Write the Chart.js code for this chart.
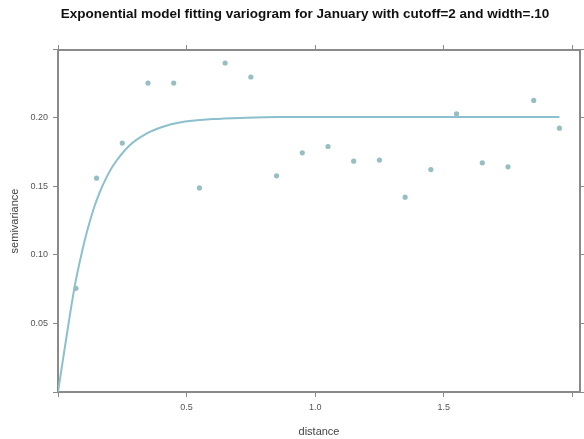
<!DOCTYPE html>
<html>
<head>
<meta charset="utf-8">
<script src="https://cdn.jsdelivr.net/npm/chart.js@4.4.1/dist/chart.umd.min.js"></script>
<style>
  html, body { margin: 0; padding: 0; background: #fff; }
  #wrap { width: 584px; height: 439px; }
</style>
</head>
<body>
<div id="wrap"><canvas id="vgm"></canvas></div>
<script>
// sample variogram (lag distance, semivariance)
const lagDist = [0.07, 0.15, 0.25, 0.35, 0.45, 0.55, 0.65, 0.75, 0.85, 0.95,
                 1.05, 1.15, 1.25, 1.35, 1.45, 1.55, 1.65, 1.75, 1.85, 1.95];
const gamma = [0.0756, 0.156, 0.1816, 0.2254, 0.2254, 0.1489, 0.240, 0.2298, 0.1577, 0.1745,
               0.1791, 0.1684, 0.1692, 0.1421, 0.1623, 0.2030, 0.1672, 0.1643, 0.2127, 0.1925];

// fitted exponential model curve
const fitDist = [0, 0.027, 0.047, 0.062, 0.072, 0.098, 0.117, 0.141, 0.163, 0.182,
                 0.214, 0.279, 0.344, 0.408, 0.473, 0.602, 0.731, 0.86, 1.2, 1.6, 1.95];
const fitGamma = [0, 0.033, 0.057, 0.074, 0.084, 0.106, 0.120, 0.135, 0.146, 0.154,
                  0.165, 0.180, 0.1885, 0.1935, 0.1966, 0.1991, 0.2001, 0.2006, 0.2007, 0.2007, 0.2007];

const xTicks = [0, 0.5, 1.0, 1.5, 2.0];
const xTickLabels = ['', '0.5', '1.0', '1.5', ''];
const yTicks = [0, 0.05, 0.10, 0.15, 0.20, 0.25];
const yTickLabels = ['', '0.05', '0.10', '0.15', '0.20', ''];

const X_MAX = 2.03;
const Y_MAX = 0.2495;
const frameColor = '#8a8a8a';
const tickFont = { family: 'Liberation Sans, Arial, sans-serif', size: 9 };

function fixedTicks(values) {
  return (scale) => { scale.ticks = values.map((v) => ({ value: v })); };
}

function frameAxis(position, values, labels, size, extra) {
  const horiz = position === 'top' || position === 'bottom';
  return Object.assign({
    type: 'linear',
    position,
    min: 0,
    max: horiz ? X_MAX : Y_MAX,
    afterBuildTicks: fixedTicks(values),
    afterFit: (scale) => { if (horiz) scale.height = size; else scale.width = size; },
    border: { display: true, color: frameColor, width: 2 },
    grid: { drawOnChartArea: false, drawTicks: true, tickLength: 5, color: frameColor, lineWidth: 1 },
    ticks: {
      display: !!labels,
      color: '#555',
      font: tickFont,
      padding: 5,
      maxRotation: 0,
      autoSkip: false,
      callback: (v, i) => (labels ? labels[i] : '')
    }
  }, extra || {});
}

const ctx = document.getElementById('vgm');
new Chart(ctx, {
  data: {
    datasets: [
      {
        type: 'scatter',
        label: 'sample',
        data: lagDist.map((d, i) => ({ x: d, y: gamma[i] })),
        backgroundColor: '#97bfc3',
        borderColor: '#97bfc3',
        pointRadius: 2.6,
        pointBorderWidth: 0
      },
      {
        type: 'line',
        label: 'model',
        data: fitDist.map((d, i) => ({ x: d, y: fitGamma[i] })),
        borderColor: '#8cc0cc',
        borderWidth: 2,
        pointRadius: 0,
        fill: false,
        cubicInterpolationMode: 'monotone'
      }
    ]
  },
  options: {
    responsive: true,
    maintainAspectRatio: false,
    animation: false,
    layout: { padding: { left: 26, right: 0, top: 0, bottom: 0 } },
    plugins: {
      legend: { display: false },
      tooltip: { enabled: false },
      title: {
        display: true,
        text: 'Exponential model fitting variogram for January with cutoff=2 and width=.10',
        color: '#111',
        font: { family: 'Liberation Sans, Arial, sans-serif', size: 13.5, weight: 'bold', lineHeight: 1 },
        padding: { top: 8, bottom: 0 }
      }
    },
    scales: {
      x: frameAxis('bottom', xTicks, xTickLabels, 47, {
        title: {
          display: true,
          text: 'distance',
          color: '#444',
          font: { family: 'Liberation Sans, Arial, sans-serif', size: 11, lineHeight: 1.2 },
          padding: { top: 0, bottom: 0 }
        }
      }),
      x2: frameAxis('top', xTicks, null, 28.5),
      y: frameAxis('left', yTicks, yTickLabels, 32, {
        title: {
          display: true,
          text: 'semivariance',
          color: '#444',
          font: { family: 'Liberation Sans, Arial, sans-serif', size: 11, lineHeight: 1.2 },
          padding: { top: -18, bottom: 0 }
        }
      }),
      y2: frameAxis('right', yTicks, null, 1)
    }
  }
});
</script>
</body>
</html>
